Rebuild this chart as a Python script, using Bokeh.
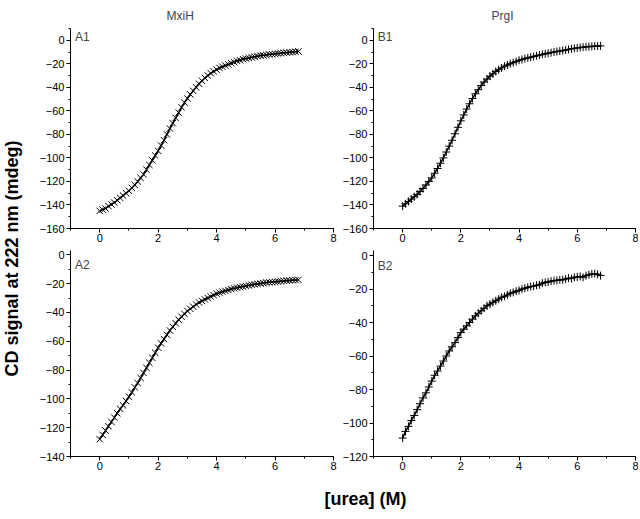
import math
from bokeh.plotting import figure
from bokeh.layouts import row, column
from bokeh.models import Range1d, SingleIntervalTicker, ColumnDataSource, Label
from bokeh.core.properties import value
from bokeh.embed import file_html
from bokeh.resources import INLINE

urea = [round(0.1 * i, 1) for i in range(69)]

mxih_a1 = [-145, -144, -143, -141, -139.5, -138, -136, -134, -132, -130,
           -128, -125.5, -123, -120, -117, -114, -110, -106, -102, -98,
           -94, -89.5, -85, -80, -75, -70.5, -66, -61.5, -57, -53,
           -49.5, -46, -43, -40, -37, -34.5, -32, -30, -28, -26.5,
           -25, -23.5, -22.5, -21.5, -20.5, -19.5, -18.5, -17.5, -17, -16,
           -15.5, -15, -14.5, -14, -13.5, -13, -12.8, -12.5, -12, -11.8,
           -11.5, -11.2, -11, -10.7, -10.5, -10.2, -10, -9.8, -9.5]

prgi_b1 = [-141, -139, -137, -135, -133, -131, -128.5, -126, -123, -120,
           -117, -113, -109, -104.5, -100, -95, -90, -85, -79.5, -74,
           -68.5, -63.5, -58.5, -54, -49.5, -45.5, -42, -38.5, -35.5, -33,
           -30.5, -28.5, -26.5, -25, -23.5, -22, -21, -20, -19, -18,
           -17, -16.3, -15.6, -15, -14.4, -13.8, -13.2, -12.6, -12, -11.5,
           -11, -10.5, -10, -9.6, -9.2, -8.8, -8.3, -7.8, -7.3, -6.9,
           -6.5, -6.2, -5.9, -5.6, -5.4, -5.2, -5, -4.9, -4.8]

mxih_a2 = [-128, -125, -122, -119, -116, -113, -110, -107, -104.5, -101.5,
           -98.5, -95.5, -92, -89, -85.5, -82, -78.5, -75, -71.5, -68,
           -64.5, -61.5, -58.5, -55.5, -52.5, -50, -47.5, -45, -43, -41,
           -39, -37.5, -36, -34.5, -33, -32, -31, -30, -29, -28,
           -27, -26.3, -25.6, -25, -24.4, -23.8, -23.3, -22.8, -22.4, -22,
           -21.6, -21.2, -20.8, -20.5, -20.2, -19.9, -19.6, -19.3, -19.1, -18.9,
           -18.7, -18.5, -18.3, -18.1, -17.9, -17.8, -17.6, -17.5, -17.4]

prgi_b2 = [-109, -105, -102, -98.5, -95.5, -92, -88.5, -85, -82, -78.5,
           -75, -71.5, -69, -66, -63, -60, -57, -54.5, -52, -49,
           -46, -44, -42, -40, -38, -36, -34.5, -33, -31.5, -30,
           -29, -28, -27, -26, -25, -24.3, -23.5, -22.5, -22, -21.3,
           -20.8, -20, -19.5, -19, -18.5, -18.3, -17.8, -17.5, -16.5, -16,
           -15.8, -15.3, -15, -14.8, -14.5, -14.5, -14, -13.5, -13.8, -13,
           -12.8, -12.5, -13, -12, -11.5, -11, -10.8, -11.2, -12]

column_titles = ["MxiH", "PrgI"]
panel_names = ["A1", "B1", "A2", "B2"]
y_label = "CD signal at 222 nm (mdeg)"
x_label = "[urea] (M)"

FONT = "Liberation Sans"


def panel(yvals, marker, ymin, ymax, name, name_y, width, height,
          border_left, border_right, border_top, title=None, title_offset=0):
    p = figure(width=width, height=height, output_backend="svg",
               toolbar_location=None, tools="",
               x_range=Range1d(-1, 8), y_range=Range1d(ymin, ymax),
               min_border_left=border_left, min_border_right=border_right,
               min_border_top=border_top, min_border_bottom=20,
               outline_line_color=None, background_fill_color="white",
               border_fill_color="white")
    if title:
        p.title.text = title
        p.title.align = "left"
        p.title.offset = title_offset
        p.title.text_font = FONT
        p.title.text_font_size = "12px"
        p.title.text_font_style = "normal"
        p.title.standoff = 12
    p.grid.visible = False
    p.xaxis.ticker = SingleIntervalTicker(interval=2, num_minor_ticks=2)
    p.yaxis.ticker = SingleIntervalTicker(interval=20, num_minor_ticks=2)
    for ax in (p.xaxis[0], p.yaxis[0]):
        ax.major_label_text_font = FONT
        ax.major_label_text_font_size = "11px"
        ax.major_label_text_color = "black"
        ax.axis_line_color = "black"
        ax.major_tick_line_color = "black"
        ax.minor_tick_line_color = "black"
        ax.major_tick_in = 0
        ax.major_tick_out = 4
        ax.minor_tick_in = 0
        ax.minor_tick_out = 2
        ax.major_label_standoff = 2
    p.xaxis.major_label_standoff = 1
    src = ColumnDataSource(dict(x=urea, y=yvals))
    p.line("x", "y", source=src, line_color="black", line_width=1.5)
    if marker == "x":
        p.scatter("x", "y", source=src, marker="x", size=9,
                  line_color="black", line_width=1)
    else:
        p.scatter("x", "y", source=src, marker="cross", size=8,
                  line_color="black", line_width=1)
    p.add_layout(Label(x=-0.85, y=name_y, text=name, text_font=FONT,
                       text_font_size="12px", text_baseline="middle",
                       text_align="left"))
    return p


a1 = panel(mxih_a1, "x", -160, 10, panel_names[0], 3, 308, 248, 40, 5, 26,
           column_titles[0], 96)
b1 = panel(prgi_b1, "+", -160, 10, panel_names[1], 3, 300, 248, 35, 3, 26,
           column_titles[1], 118)
a2 = panel(mxih_a2, "x", -140, 3, panel_names[2], -7, 308, 228, 40, 5, 2)
b2 = panel(prgi_b2, "+", -120, 3, panel_names[3], -6, 300, 228, 35, 3, 2)


def text_fig(w, h, tx, ty, txt, angle):
    f = figure(width=w, height=h, output_backend="svg", toolbar_location=None,
               tools="", x_range=Range1d(0, w), y_range=Range1d(0, h),
               min_border=0, outline_line_color=None)
    f.axis.visible = False
    f.grid.visible = False
    f.text(x=[tx], y=[ty], text=[txt], angle=angle, text_font=value(FONT),
           text_font_size="18px", text_font_style="bold",
           text_align="center", text_baseline="middle", text_color="black")
    return f


ylab = text_fig(30, 518, 11, 260, y_label, math.pi / 2)
xlab = text_fig(608, 42, 335, 20, x_label, 0)

layout = row(ylab, column(row(a1, b1), row(a2, b2), xlab))

open("out.html", "w").write(file_html(layout, INLINE))
